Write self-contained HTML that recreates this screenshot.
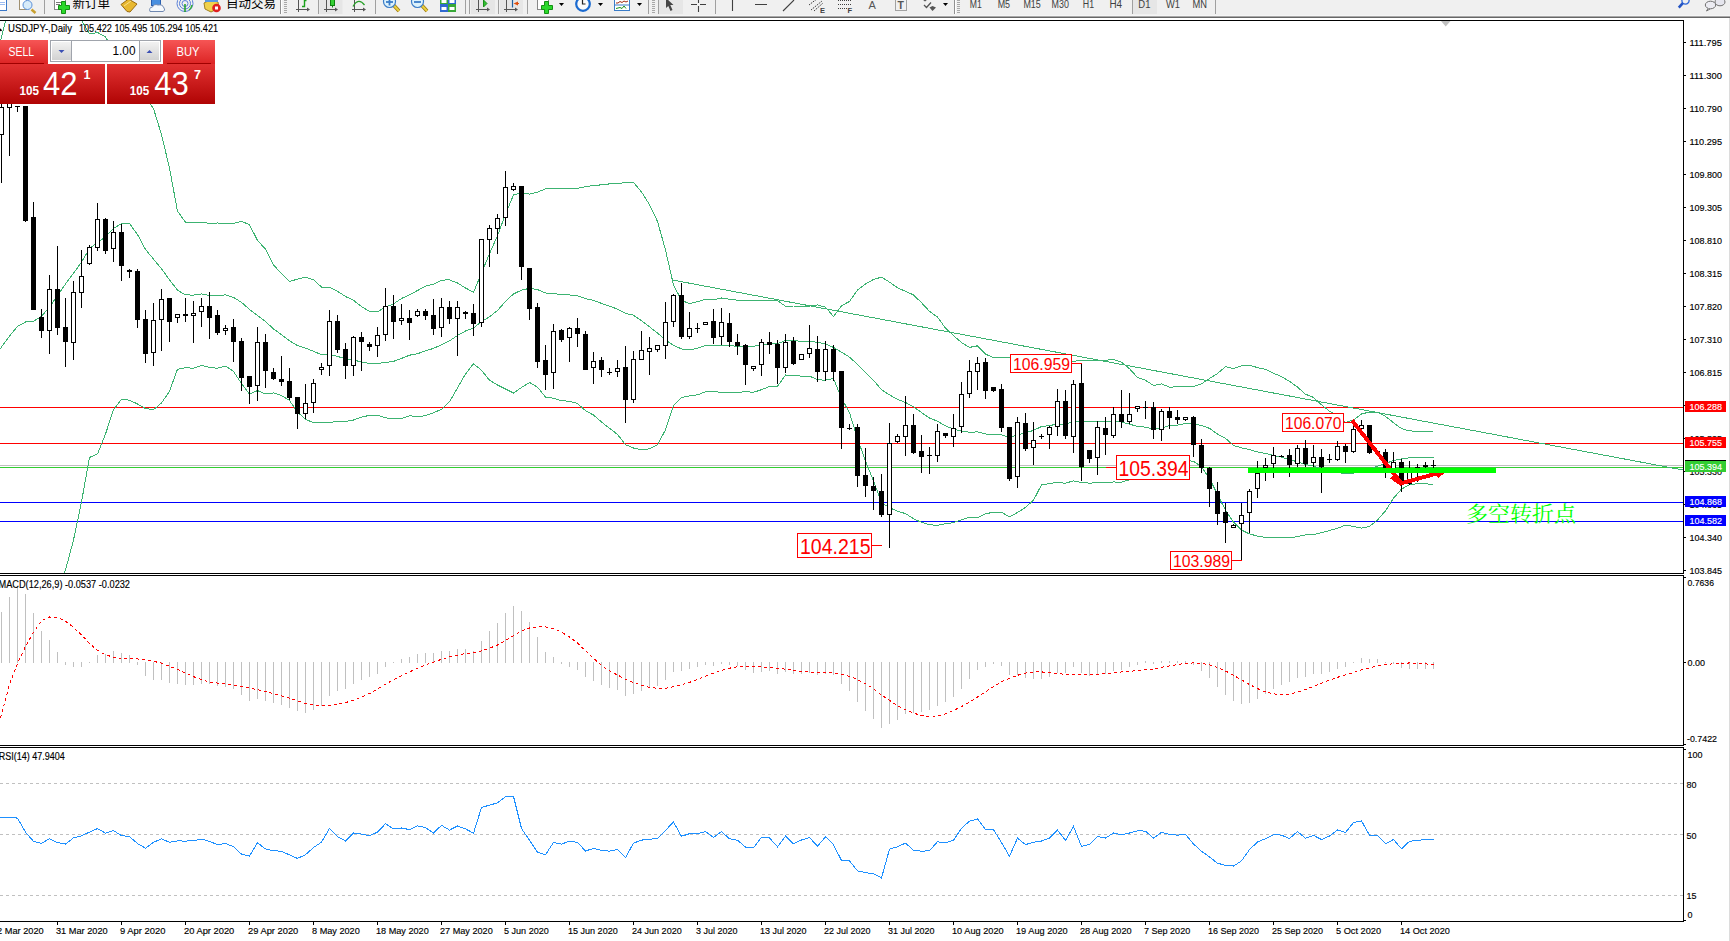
<!DOCTYPE html><html><head><meta charset="utf-8"><title>USDJPY Daily</title>
<style>html,body{margin:0;padding:0;background:#fff;width:1730px;height:941px;overflow:hidden}svg{position:absolute;left:0;top:0;display:block}.ax{font-family:"Liberation Sans",Arial,sans-serif;font-size:9.6px;fill:#000;stroke:#000;stroke-width:0.15px}.tb{font-family:"Liberation Sans",Arial,sans-serif;font-size:11px;fill:#222}.cjk{font-family:"Liberation Sans","Noto Sans CJK SC",sans-serif}</style></head><body>
<svg width="1730" height="941" viewBox="0 0 1730 941">
<defs><clipPath id="cm"><rect x="0" y="21" width="1683" height="552"/></clipPath><clipPath id="cd"><rect x="0" y="576" width="1683" height="169"/></clipPath><clipPath id="cr"><rect x="0" y="748" width="1683" height="173"/></clipPath><linearGradient id="gTab" x1="0" y1="0" x2="0" y2="1"><stop offset="0" stop-color="#f65555"/><stop offset="1" stop-color="#dc2424"/></linearGradient><linearGradient id="gPx" x1="0" y1="0" x2="0" y2="1"><stop offset="0" stop-color="#e23232"/><stop offset="1" stop-color="#b00404"/></linearGradient><linearGradient id="gBtn" x1="0" y1="0" x2="0" y2="1"><stop offset="0" stop-color="#f2f2f2"/><stop offset="1" stop-color="#d2d2d2"/></linearGradient></defs>
<g id="toolbar">
<rect x="0" y="0" width="1730" height="16" fill="#f0f0f0"/>
<rect x="0" y="15" width="1730" height="1" fill="#f5f5f5"/>
<rect x="0" y="16" width="1730" height="1" fill="#a8a8a8"/>
<rect x="0" y="17" width="1730" height="1" fill="#666666"/>
<g id="tb-icons">
<rect x="319.5" y="0" width="23.0" height="14" fill="#e6e6e6"/>
<rect x="471" y="0" width="24" height="14" fill="#e6e6e6"/>
<rect x="500" y="0" width="23" height="14" fill="#e6e6e6"/>
<rect x="659" y="0" width="24" height="14" fill="#e6e6e6"/>
<rect x="1133" y="0" width="24" height="14" fill="#e6e6e6"/>
<rect x="44" y="0" width="1" height="14" fill="#a0a0a0"/>
<rect x="318" y="0" width="1" height="14" fill="#a0a0a0"/>
<rect x="375" y="0" width="1" height="14" fill="#a0a0a0"/>
<rect x="465" y="0" width="1" height="14" fill="#a0a0a0"/>
<rect x="469" y="0" width="1" height="14" fill="#a0a0a0"/>
<rect x="498" y="0" width="1" height="14" fill="#a0a0a0"/>
<rect x="527" y="0" width="1" height="14" fill="#a0a0a0"/>
<rect x="648" y="0" width="1" height="14" fill="#a0a0a0"/>
<rect x="658" y="0" width="1" height="14" fill="#a0a0a0"/>
<rect x="715" y="0" width="1" height="14" fill="#a0a0a0"/>
<rect x="954" y="0" width="1" height="14" fill="#a0a0a0"/>
<rect x="1132" y="0" width="1" height="14" fill="#a0a0a0"/>
<rect x="1215" y="0" width="1" height="14" fill="#a0a0a0"/>
<rect x="280" y="0" width="1" height="14" fill="#909090"/><rect x="281" y="0" width="1" height="14" fill="#fff"/>
<rect x="954" y="0" width="1" height="14" fill="#909090"/><rect x="955" y="0" width="1" height="14" fill="#fff"/>
<rect x="284" y="0" width="3" height="1" fill="#a8a8a8"/>
<rect x="284" y="2" width="3" height="1" fill="#a8a8a8"/>
<rect x="284" y="4" width="3" height="1" fill="#a8a8a8"/>
<rect x="284" y="6" width="3" height="1" fill="#a8a8a8"/>
<rect x="284" y="8" width="3" height="1" fill="#a8a8a8"/>
<rect x="284" y="10" width="3" height="1" fill="#a8a8a8"/>
<rect x="284" y="12" width="3" height="1" fill="#a8a8a8"/>
<rect x="652" y="0" width="3" height="1" fill="#a8a8a8"/>
<rect x="652" y="2" width="3" height="1" fill="#a8a8a8"/>
<rect x="652" y="4" width="3" height="1" fill="#a8a8a8"/>
<rect x="652" y="6" width="3" height="1" fill="#a8a8a8"/>
<rect x="652" y="8" width="3" height="1" fill="#a8a8a8"/>
<rect x="652" y="10" width="3" height="1" fill="#a8a8a8"/>
<rect x="652" y="12" width="3" height="1" fill="#a8a8a8"/>
<rect x="957" y="0" width="3" height="1" fill="#a8a8a8"/>
<rect x="957" y="2" width="3" height="1" fill="#a8a8a8"/>
<rect x="957" y="4" width="3" height="1" fill="#a8a8a8"/>
<rect x="957" y="6" width="3" height="1" fill="#a8a8a8"/>
<rect x="957" y="8" width="3" height="1" fill="#a8a8a8"/>
<rect x="957" y="10" width="3" height="1" fill="#a8a8a8"/>
<rect x="957" y="12" width="3" height="1" fill="#a8a8a8"/>
<rect x="-3.5" y="-5.5" width="10" height="16" fill="#fff" stroke="#3a78c8"/>
<path d="M-1 2.5H5M-1 4.5H5" stroke="#9cbcf0"/>
<rect x="19.5" y="-4.5" width="7" height="14" fill="#fff" stroke="#a09070"/>
<circle cx="27.5" cy="5" r="4.5" fill="#d8ecfa" stroke="#5a90d8"/>
<path d="M31.5 9.5L35.5 13" stroke="#c8a030" stroke-width="2.5"/>
<rect x="54.5" y="-4.5" width="11" height="14" fill="#fff" stroke="#888"/>
<path d="M56 2.5H62M56 4.5H60" stroke="#777"/>
<path d="M58.5 5.5H61.5V1.5H65.5V5.5H69.5V9.5H65.5V13.5H61.5V9.5H58.5Z" fill="#2ad82a" stroke="#149014"/>
<text x="72.5" y="8" font-family="Liberation Sans,'Noto Sans CJK SC',sans-serif" font-size="12.5" fill="#000">新订单</text>
<path d="M121 4.5L128.5 -1L137 4L130 12L127 11.5Z" fill="#e8b830" stroke="#9a6a10"/>
<path d="M124 6L131 1" stroke="#fbe08a"/>
<rect x="151.5" y="-3.5" width="9" height="9" fill="#4a90e0" stroke="#2a60b0"/>
<path d="M150 11.5Q148.5 7.5 152.5 7Q154 3.5 158 5Q162.5 4 164 8Q166 10.5 163 11.5Z" fill="#f6f9fc" stroke="#7088b0"/>
<circle cx="185" cy="3.5" r="3.0" fill="none" stroke="#5a80d8" stroke-dasharray="none"/>
<circle cx="185" cy="3.5" r="5.5" fill="none" stroke="#5a80d8" stroke-dasharray="none"/>
<circle cx="185" cy="3.5" r="8.0" fill="none" stroke="#5a80d8" stroke-dasharray="none"/>
<path d="M185 4V12" stroke="#20a020" stroke-width="1.5"/>
<path d="M189 10A8 8 0 0 0 192 5" stroke="#30b030" stroke-width="1.5" fill="none"/>
<path d="M204 3L210 0L218 2L219 8L211 12L205 9Z" fill="#f0d24a" stroke="#a08020"/>
<rect x="205" y="-2" width="13" height="4" fill="#5a9ae0"/>
<circle cx="216.5" cy="8" r="4.3" fill="#e02020"/>
<rect x="215" y="6.5" width="3" height="3" fill="#fff"/>
<text x="226" y="8" font-family="Liberation Sans,'Noto Sans CJK SC',sans-serif" font-size="12.5" fill="#000">自动交易</text>
<path d="M298.5 0V12M296 9.5H308" stroke="#555" fill="none"/>
<path d="M307 7.5L310 9.5L307 11.5Z" fill="#555"/>
<path d="M326.5 0V12M324 9.5H336" stroke="#555" fill="none"/>
<path d="M335 7.5L338 9.5L335 11.5Z" fill="#555"/>
<path d="M354.5 0V12M352 9.5H364" stroke="#555" fill="none"/>
<path d="M363 7.5L366 9.5L363 11.5Z" fill="#555"/>
<path d="M478.5 0V12M476 9.5H488" stroke="#555" fill="none"/>
<path d="M487 7.5L490 9.5L487 11.5Z" fill="#555"/>
<path d="M506.5 0V12M504 9.5H516" stroke="#555" fill="none"/>
<path d="M515 7.5L518 9.5L515 11.5Z" fill="#555"/>
<path d="M302 6.5H304.5V0.5H306.5" stroke="#1aa01a" stroke-width="1.4" fill="none"/>
<rect x="330.5" y="-1.5" width="4" height="7" fill="#34d034" stroke="#108010"/><path d="M332.5 5.5V7.5" stroke="#108010"/>
<path d="M353 6.5Q358.5 -3 364.5 5" stroke="#28a028" stroke-width="1.3" fill="none"/>
<path d="M483.5 0L487 3.5L483.5 7Z" fill="#30c030" stroke="#189018"/>
<path d="M512.5 0V7.5" stroke="#2060a0" stroke-width="1.2"/><path d="M513.5 3.5L518 1.5V5.5Z" fill="#e05010"/><path d="M515 3.5H519" stroke="#e05010"/>
<path d="M393.5 5L399.0 11" stroke="#a07810" stroke-width="3.6"/>
<path d="M393.5 5L399.0 11" stroke="#e8d040" stroke-width="2"/>
<circle cx="389.5" cy="1.5" r="6" fill="#dcf2fc" stroke="#3a7cc8" stroke-width="1.2"/>
<path d="M386.0 2H393.0" stroke="#3a7cc8" stroke-width="1.8"/>
<path d="M389.5 -1.5V5.5" stroke="#3a7cc8" stroke-width="1.8"/>
<path d="M421.5 5L427.0 11" stroke="#a07810" stroke-width="3.6"/>
<path d="M421.5 5L427.0 11" stroke="#e8d040" stroke-width="2"/>
<circle cx="417.5" cy="1.5" r="6" fill="#dcf2fc" stroke="#3a7cc8" stroke-width="1.2"/>
<path d="M414.0 2H421.0" stroke="#3a7cc8" stroke-width="1.8"/>
<rect x="440.5" y="-2.5" width="7" height="7" fill="#38a838" stroke="#38a838"/>
<rect x="441.5" y="0.0" width="5" height="3" fill="#fff"/>
<rect x="448.5" y="-2.5" width="7" height="7" fill="#3068d0" stroke="#3068d0"/>
<rect x="449.5" y="0.0" width="5" height="3" fill="#fff"/>
<rect x="440.5" y="4.5" width="7" height="7" fill="#3068d0" stroke="#3068d0"/>
<rect x="441.5" y="7.0" width="5" height="3" fill="#fff"/>
<rect x="448.5" y="4.5" width="7" height="7" fill="#38a838" stroke="#38a838"/>
<rect x="449.5" y="7.0" width="5" height="3" fill="#fff"/>
<rect x="537.5" y="-3.5" width="11" height="13" fill="#fff" stroke="#888"/>
<path d="M541.5 5.5H544.5V1.5H548.5V5.5H552.5V9.5H548.5V13.5H544.5V9.5H541.5Z" fill="#2ad82a" stroke="#149014"/>
<path d="M559.0 3H564.0L561.5 6Z" fill="#000"/>
<path d="M598.0 3H603.0L600.5 6Z" fill="#000"/>
<path d="M637.0 3H642.0L639.5 6Z" fill="#000"/>
<path d="M943.0 3H948.0L945.5 6Z" fill="#000"/>
<circle cx="583" cy="4" r="6.8" fill="#fafafa" stroke="#1a6ad0" stroke-width="2.2"/>
<path d="M582.5 -0.5V4H585.5" stroke="#222" stroke-width="1.2" fill="none"/>
<rect x="614.5" y="-2.5" width="15" height="13" fill="#fff" stroke="#3a7cc8"/>
<path d="M615 5H629" stroke="#3a7cc8"/>
<path d="M616 3L618 3L620 1.5L622 2.5L624 1L626 2L628 1" stroke="#a02810" fill="none"/>
<path d="M616 8.5L618 8L620 7.5L622 8.5L624 6L626 8.5" stroke="#189018" fill="none"/>
<path d="M666 -2V8L668.3 6L670.5 11L672.5 10L670.3 5H673.5Z" fill="#454545"/>
<path d="M691 4.5H697M700 4.5H706M698.5 -1V3M698.5 6V12" stroke="#404040" stroke-width="1.1"/>
<path d="M732.5 0V11M755 4.5H767M783 11L794 0" stroke="#404040" stroke-width="1.1" fill="none"/>
<path d="M809 5L818 -2M811 10L822 1M814 11L823 3" stroke="#404040" stroke-dasharray="1.5,1" fill="none"/>
<text x="820" y="13" font-family="Liberation Sans,Arial,sans-serif" font-size="7.5" font-weight="bold" fill="#404040">E</text>
<path d="M838 0.5H851M838 4.5H851M838 8.5H847" stroke="#404040" stroke-dasharray="1,1"/>
<text x="847.5" y="13" font-family="Liberation Sans,Arial,sans-serif" font-size="7.5" font-weight="bold" fill="#404040">F</text>
<text x="868.5" y="9" font-family="Liberation Sans,Arial,sans-serif" font-size="11" fill="#555">A</text>
<rect x="895.5" y="-1.5" width="11" height="12" fill="none" stroke="#555" stroke-dasharray="1,1"/>
<text x="897.5" y="9" font-family="Liberation Sans,Arial,sans-serif" font-size="10.5" font-weight="bold" fill="#555">T</text>
<path d="M922 -1L925 -2.5L928 -1L925 1.5Z" fill="#555"/><path d="M924 5L926.5 7.5L931 2.5" stroke="#555" stroke-width="1.3" fill="none"/><path d="M929.5 7.5L932.5 6L936 7.5L932.5 11Z" fill="#555"/>
<text x="969.7" y="8.3" font-family="Liberation Sans,Arial,sans-serif" font-size="10" fill="#404040" textLength="12.0" lengthAdjust="spacingAndGlyphs">M1</text>
<text x="997.7" y="8.3" font-family="Liberation Sans,Arial,sans-serif" font-size="10" fill="#404040" textLength="12.4" lengthAdjust="spacingAndGlyphs">M5</text>
<text x="1023.4" y="8.3" font-family="Liberation Sans,Arial,sans-serif" font-size="10" fill="#404040" textLength="17.4" lengthAdjust="spacingAndGlyphs">M15</text>
<text x="1051.6" y="8.3" font-family="Liberation Sans,Arial,sans-serif" font-size="10" fill="#404040" textLength="17.3" lengthAdjust="spacingAndGlyphs">M30</text>
<text x="1082.8" y="8.3" font-family="Liberation Sans,Arial,sans-serif" font-size="10" fill="#404040" textLength="11.3" lengthAdjust="spacingAndGlyphs">H1</text>
<text x="1109.4" y="8.3" font-family="Liberation Sans,Arial,sans-serif" font-size="10" fill="#404040" textLength="12.7" lengthAdjust="spacingAndGlyphs">H4</text>
<text x="1138.3" y="8.3" font-family="Liberation Sans,Arial,sans-serif" font-size="10" fill="#404040" textLength="12.1" lengthAdjust="spacingAndGlyphs">D1</text>
<text x="1166.0" y="8.3" font-family="Liberation Sans,Arial,sans-serif" font-size="10" fill="#404040" textLength="13.9" lengthAdjust="spacingAndGlyphs">W1</text>
<text x="1192.6" y="8.3" font-family="Liberation Sans,Arial,sans-serif" font-size="10" fill="#404040" textLength="14.5" lengthAdjust="spacingAndGlyphs">MN</text>
<circle cx="1685.5" cy="0.5" r="3.6" fill="none" stroke="#2a64d8" stroke-width="1.3"/>
<path d="M1682.8 3.2L1678.8 7.6" stroke="#2454c4" stroke-width="2.6"/>
<ellipse cx="1720" cy="2" rx="5" ry="3.8" fill="#e6e6ee" stroke="#707070"/>
<ellipse cx="1710.5" cy="5" rx="5.2" ry="3.8" fill="#ececf2" stroke="#707070"/>
<path d="M1708 8.5L1706.5 11L1710 9" fill="#ececf2" stroke="#707070"/>
</g>
</g>
<rect x="1729" y="18" width="1" height="923" fill="#dcdcdc"/>
<g shape-rendering="crispEdges">
<rect x="0" y="20" width="1684" height="1" fill="#000"/>
<rect x="1683" y="20" width="1" height="554" fill="#000"/>
<rect x="0" y="573" width="1684" height="1" fill="#000"/>
<rect x="0" y="575" width="1684" height="1" fill="#000"/>
<rect x="1683" y="575" width="1" height="171" fill="#000"/>
<rect x="0" y="745" width="1684" height="1" fill="#000"/>
<rect x="0" y="747" width="1684" height="1" fill="#000"/>
<rect x="1683" y="747" width="1" height="175" fill="#000"/>
<rect x="0" y="921" width="1684" height="1" fill="#000"/>
</g>
<g shape-rendering="crispEdges">
<rect x="0" y="407" width="1683" height="1" fill="#ff0000"/>
<rect x="0" y="443" width="1683" height="1" fill="#ff0000"/>
<rect x="0" y="465" width="1683" height="1" fill="#c0c0c0"/>
<rect x="0" y="467" width="1683" height="1" fill="#32cd32"/>
<rect x="0" y="502" width="1683" height="1" fill="#0000ff"/>
<rect x="0" y="521" width="1683" height="1" fill="#0000ff"/>
</g>
<g clip-path="url(#cm)" fill="none" stroke="#3cb371" stroke-width="1" shape-rendering="crispEdges">
<polyline points="-6.5,64.5 1.5,37 9.5,5 17.5,0 25.5,0 33.5,0 41.5,0 49.5,0 57.5,0 65.5,0 73.5,0 81.5,20 89.5,34 97.5,32.5 105.5,37 113.5,50 121.5,62 129.5,75 137.5,88 145.5,98 153.5,108.6 161.5,134.5 169.5,168.3 177.5,211.2 185.5,222.1 193.5,222.1 201.5,222.5 209.5,223.2 217.5,223 225.5,223.8 233.5,223.4 241.5,221.4 249.5,224.7 257.5,240.5 265.5,249.1 273.5,264.8 281.5,273.7 289.5,281.4 297.5,279.2 305.5,277.1 313.5,279.8 321.5,287 329.5,287 337.5,291.3 345.5,296.5 353.5,300.3 361.5,306.6 369.5,311.4 377.5,311.8 385.5,307 393.5,303.9 401.5,298.5 409.5,294.8 417.5,290.5 425.5,286.2 433.5,284.2 441.5,280.1 449.5,279.9 457.5,283 465.5,288 473.5,292.3 481.5,273 489.5,253.6 497.5,235.8 505.5,214 513.5,194.9 521.5,192.9 529.5,194.1 537.5,192.1 545.5,188.9 553.5,188.8 561.5,188.4 569.5,188.4 577.5,188.4 585.5,186.6 593.5,185.6 601.5,184.8 609.5,183.9 617.5,183.9 625.5,182.2 633.5,182.5 641.5,191.9 649.5,204.7 657.5,221.5 665.5,250 673.5,285 681.5,300.2 689.5,303.8 697.5,301.6 705.5,299.4 713.5,299.9 721.5,298 729.5,299.3 737.5,300.2 745.5,300.4 753.5,300.3 761.5,300.2 769.5,300.6 777.5,300.6 785.5,306.3 793.5,306 801.5,306 809.5,306 817.5,304.9 825.5,307.2 833.5,316.5 841.5,305.9 849.5,301.4 857.5,290.1 865.5,284 873.5,279.5 881.5,277.1 889.5,282.1 897.5,287.7 905.5,291.4 913.5,294.9 921.5,302.7 929.5,311.4 937.5,317.1 945.5,328.1 953.5,335.6 961.5,342.5 969.5,347.4 977.5,345.8 985.5,354.1 993.5,357.6 1001.5,357.6 1009.5,357.9 1017.5,357 1025.5,358.4 1033.5,360.6 1041.5,368.1 1049.5,367.9 1057.5,365.4 1065.5,365.7 1073.5,361.3 1081.5,360.5 1089.5,360.3 1097.5,360.2 1105.5,360.2 1113.5,359.5 1121.5,362.1 1129.5,368.7 1137.5,377.5 1145.5,380.3 1153.5,385.4 1161.5,383.9 1169.5,387.1 1177.5,386.9 1185.5,386.7 1193.5,386.5 1201.5,383.8 1209.5,378.5 1217.5,373.5 1225.5,366.6 1233.5,368.7 1241.5,365.7 1249.5,365.2 1257.5,367.6 1265.5,369.3 1273.5,373.3 1281.5,376.5 1289.5,381.4 1297.5,387.1 1305.5,394.2 1313.5,397.4 1321.5,404.8 1329.5,411.2 1337.5,416.1 1345.5,422.7 1353.5,419.9 1361.5,413.9 1369.5,412.1 1377.5,412.4 1385.5,416.4 1393.5,422.7 1401.5,428.6 1409.5,430.9 1417.5,431.2 1425.5,431.2 1433.5,431.5"/>
<polyline points="-6.5,358 1.5,347 9.5,336 17.5,326.5 25.5,322 33.5,321.2 41.5,316.3 49.5,307 57.5,295.5 65.5,284 73.5,273.3 81.5,262.2 89.5,248.5 97.5,242.5 105.5,236.8 113.5,228.5 121.5,223.6 129.5,223.6 137.5,234.5 145.5,249.5 153.5,259.1 161.5,268.8 169.5,279.8 177.5,290.2 185.5,294.9 193.5,295.1 201.5,293.9 209.5,295.4 217.5,295.6 225.5,294.9 233.5,297.4 241.5,302.4 249.5,309.4 257.5,315.6 265.5,321.6 273.5,328.9 281.5,334.6 289.5,340.9 297.5,345.6 305.5,348.1 313.5,351.3 321.5,354.7 329.5,354.7 337.5,356.4 345.5,358.9 353.5,360.1 361.5,361.9 369.5,363.4 377.5,363.5 385.5,362.4 393.5,361.4 401.5,358.4 409.5,355.2 417.5,353.7 425.5,350.9 433.5,348.4 441.5,344.8 449.5,340.8 457.5,335.5 465.5,331 473.5,328 481.5,321.6 489.5,316.9 497.5,310.4 505.5,301.5 513.5,293.9 521.5,290.2 529.5,288.3 537.5,289.6 545.5,293 553.5,293.5 561.5,294.6 569.5,294.9 577.5,295.9 585.5,298.6 593.5,300.3 601.5,303.4 609.5,306.1 617.5,309.1 625.5,313.4 633.5,315.2 641.5,320.8 649.5,326.8 657.5,333.1 665.5,339.9 673.5,345.4 681.5,348.9 689.5,349.9 697.5,348.2 705.5,345.6 713.5,345.9 721.5,345.1 729.5,345.7 737.5,346.3 745.5,346.1 753.5,346.3 761.5,344.9 769.5,343.6 777.5,343.5 785.5,340.6 793.5,340.9 801.5,341.1 809.5,341.1 817.5,342.4 825.5,343.7 833.5,347.5 841.5,352.1 849.5,357.1 857.5,364.4 865.5,372.6 873.5,380.2 881.5,389.8 889.5,394.9 897.5,399.4 905.5,402.5 913.5,406.8 921.5,412.5 929.5,418.1 937.5,421.2 945.5,425.9 953.5,429.1 961.5,431.1 969.5,432.3 977.5,431.9 985.5,433.9 993.5,434.9 1001.5,434.9 1009.5,437.4 1017.5,434.8 1025.5,432.9 1033.5,430.4 1041.5,426.5 1049.5,425.7 1057.5,423.9 1065.5,424.4 1073.5,421.1 1081.5,421.6 1089.5,421.7 1097.5,421.5 1105.5,421.4 1113.5,420.8 1121.5,422.1 1129.5,424.2 1137.5,426.4 1145.5,427.2 1153.5,429.2 1161.5,428.4 1169.5,425.4 1177.5,425.2 1185.5,423.6 1193.5,423.9 1201.5,425.4 1209.5,428.4 1217.5,434.1 1225.5,438.4 1233.5,445.4 1241.5,447.9 1249.5,449.6 1257.5,451.9 1265.5,453.4 1273.5,455.4 1281.5,457.2 1289.5,459.7 1297.5,461.8 1305.5,464.6 1313.5,466 1321.5,468.8 1329.5,470.9 1337.5,472.2 1345.5,473.9 1353.5,473.1 1361.5,471.1 1369.5,469.2 1377.5,466.2 1385.5,463.6 1393.5,460.4 1401.5,458.9 1409.5,457.8 1417.5,457.4 1425.5,457.5 1433.5,458"/>
<polyline points="-6.5,720.5 1.5,700 9.5,690 17.5,680 25.5,660 33.5,640 41.5,620 49.5,600 57.5,585 65.5,570 73.5,540 81.5,502 89.5,457.5 97.5,453.9 105.5,434 113.5,409.8 121.5,399.4 129.5,400.2 137.5,404 145.5,408.5 153.5,409.7 161.5,403 169.5,391.3 177.5,369.2 185.5,367.8 193.5,368.2 201.5,365.4 209.5,367.5 217.5,368.2 225.5,366.1 233.5,371.4 241.5,383.5 249.5,394.1 257.5,390.6 265.5,394 273.5,392.9 281.5,395.6 289.5,400.5 297.5,412.1 305.5,419.2 313.5,422.8 321.5,422.4 329.5,422.4 337.5,421.6 345.5,421.4 353.5,420 361.5,417.2 369.5,415.3 377.5,415.2 385.5,417.8 393.5,418.9 401.5,418.4 409.5,415.7 417.5,416.9 425.5,415.7 433.5,412.7 441.5,409.4 449.5,401.7 457.5,388 465.5,374 473.5,363.7 481.5,370.2 489.5,380.3 497.5,385 505.5,389 513.5,393 521.5,387.5 529.5,382.5 537.5,387.1 545.5,397.1 553.5,398.2 561.5,400.7 569.5,401.3 577.5,403.5 585.5,410.7 593.5,415 601.5,422 609.5,428.3 617.5,434.4 625.5,444.7 633.5,448 641.5,449.7 649.5,448.9 657.5,444.8 665.5,429.8 673.5,405.7 681.5,397.5 689.5,395.9 697.5,394.8 705.5,391.8 713.5,391.9 721.5,392.1 729.5,392.1 737.5,392.4 745.5,391.7 753.5,392.3 761.5,389.7 769.5,386.5 777.5,386.4 785.5,375 793.5,375.7 801.5,376.1 809.5,376.1 817.5,379.8 825.5,380.2 833.5,378.5 841.5,398.2 849.5,412.7 857.5,438.7 865.5,461.1 873.5,480.9 881.5,502.5 889.5,507.7 897.5,511.2 905.5,513.6 913.5,518.7 921.5,522.3 929.5,524.7 937.5,525.4 945.5,523.7 953.5,522.7 961.5,519.8 969.5,517.2 977.5,518 985.5,513.8 993.5,512.2 1001.5,512.2 1009.5,516.9 1017.5,512.5 1025.5,507.4 1033.5,500.2 1041.5,484.9 1049.5,483.5 1057.5,482.5 1065.5,483.2 1073.5,480.8 1081.5,482.6 1089.5,483.1 1097.5,482.8 1105.5,482.7 1113.5,482 1121.5,482.1 1129.5,479.8 1137.5,475.3 1145.5,474.2 1153.5,473 1161.5,472.9 1169.5,463.6 1177.5,463.5 1185.5,460.6 1193.5,461.2 1201.5,467 1209.5,478.4 1217.5,494.6 1225.5,510.2 1233.5,522.2 1241.5,530.1 1249.5,533.9 1257.5,536.1 1265.5,537.5 1273.5,537.6 1281.5,537.9 1289.5,538 1297.5,536.5 1305.5,535 1313.5,534.6 1321.5,532.7 1329.5,530.5 1337.5,528.3 1345.5,525.1 1353.5,526.4 1361.5,528.2 1369.5,526.4 1377.5,520 1385.5,510.8 1393.5,498.2 1401.5,489.1 1409.5,484.6 1417.5,483.7 1425.5,483.8 1433.5,484.5"/>
<line x1="672.5" y1="280" x2="1683" y2="470"/>
</g>
<g clip-path="url(#cm)" shape-rendering="crispEdges">
<path d="M1.5 95V183M9.5 95V156M17.5 106V112M25.5 106V222M33.5 202V310M41.5 309V338M49.5 275V354M57.5 246V335M65.5 298V367M73.5 281V360M81.5 250V308M89.5 245V265M97.5 203V251M105.5 218V254M113.5 221V262M121.5 224V281M129.5 269V278M137.5 269V328M145.5 310V363M153.5 303V366M161.5 289V351M169.5 298V342M177.5 314V323M185.5 298V322M193.5 301V343M201.5 298V327M209.5 292V339M217.5 310V335M225.5 325V335M233.5 319V362M241.5 338V391M249.5 376V404M257.5 327V401M265.5 334V388M273.5 368V380M281.5 356V386M289.5 368V400M297.5 397V429M305.5 384V419M313.5 379V413M321.5 363V375M329.5 310V376M337.5 315V353M345.5 343V379M353.5 336V376M361.5 332V371M369.5 342V351M377.5 327V357M385.5 288V341M393.5 295V339M401.5 304V325M409.5 310V340M417.5 309V317M425.5 309V320M433.5 299V335M441.5 298V337M449.5 301V324M457.5 301V356M465.5 311V319M473.5 304V336M481.5 239V327M489.5 225V267M497.5 214V254M505.5 171V226M513.5 183V191M521.5 186V280M529.5 268V320M537.5 303V368M545.5 345V390M553.5 324V389M561.5 329V342M569.5 327V362M577.5 318V347M585.5 331V370M593.5 352V384M601.5 357V377M609.5 368V375M617.5 360V377M625.5 346V423M633.5 351V403M641.5 331V360M649.5 337V375M657.5 345V352M665.5 302V359M673.5 294V327M681.5 283V339M689.5 312V339M697.5 323V333M705.5 322V325M713.5 309V344M721.5 308V345M729.5 313V347M737.5 334V355M745.5 344V385M753.5 366V371M761.5 339V376M769.5 332V354M777.5 340V384M785.5 334V373M793.5 337V365M801.5 354V360M809.5 325V358M817.5 336V382M825.5 341V381M833.5 345V381M841.5 371V449M849.5 424V430M857.5 424V487M865.5 448V497M873.5 477V510M881.5 474V517M889.5 423V548M897.5 434V443M905.5 396V456M913.5 414V454M921.5 435V473M929.5 447V474M937.5 424V462M945.5 433V438M953.5 414V447M961.5 382V433M969.5 360V398M977.5 357V390M985.5 358V399M993.5 387V392M1001.5 384V432M1009.5 427V481M1017.5 417V488M1025.5 413V451M1033.5 422V465M1041.5 434V439M1049.5 426V449M1057.5 389V436M1065.5 390V439M1073.5 380V453M1081.5 364V481M1089.5 450V463M1097.5 421V475M1105.5 417V455M1113.5 407V438M1121.5 390V428M1129.5 393V424M1137.5 406V412M1145.5 401V419M1153.5 402V439M1161.5 409V441M1169.5 407V429M1177.5 410V424M1185.5 417V421M1193.5 416V457M1201.5 439V473M1209.5 467V507M1217.5 482V525M1225.5 503V543M1233.5 524V528M1241.5 503V560M1249.5 489V533M1257.5 461V498M1265.5 458V481M1273.5 447V478M1281.5 455V457M1289.5 449V477M1297.5 445V467M1305.5 440V467M1313.5 445V467M1321.5 449V493M1329.5 454V463M1337.5 441V461M1345.5 444V463M1353.5 420V453M1361.5 420V429M1369.5 425V454M1377.5 450V455M1385.5 449V478M1393.5 452V475M1401.5 459V492M1409.5 461V485M1417.5 464V482M1425.5 462V468M1433.5 460V468" stroke="#000" stroke-width="1" fill="none"/>
<rect x="-0.5" y="107.5" width="4" height="27" fill="#fff" stroke="#000" stroke-width="1"/>
<rect x="7.5" y="100.5" width="4" height="7" fill="#fff" stroke="#000" stroke-width="1"/>
<rect x="47.5" y="289.5" width="4" height="41" fill="#fff" stroke="#000" stroke-width="1"/>
<rect x="71.5" y="292.5" width="4" height="50" fill="#fff" stroke="#000" stroke-width="1"/>
<rect x="79.5" y="276.5" width="4" height="16" fill="#fff" stroke="#000" stroke-width="1"/>
<rect x="87.5" y="247.5" width="4" height="16" fill="#fff" stroke="#000" stroke-width="1"/>
<rect x="95.5" y="219.5" width="4" height="28" fill="#fff" stroke="#000" stroke-width="1"/>
<rect x="111.5" y="232.5" width="4" height="16" fill="#fff" stroke="#000" stroke-width="1"/>
<rect x="151.5" y="320.5" width="4" height="32" fill="#fff" stroke="#000" stroke-width="1"/>
<rect x="159.5" y="299.5" width="4" height="20" fill="#fff" stroke="#000" stroke-width="1"/>
<rect x="175.5" y="314.5" width="4" height="3" fill="#fff" stroke="#000" stroke-width="1"/>
<rect x="191.5" y="313.5" width="4" height="2" fill="#fff" stroke="#000" stroke-width="1"/>
<rect x="199.5" y="306.5" width="4" height="5" fill="#fff" stroke="#000" stroke-width="1"/>
<rect x="223.5" y="328.5" width="4" height="2" fill="#fff" stroke="#000" stroke-width="1"/>
<rect x="255.5" y="342.5" width="4" height="43" fill="#fff" stroke="#000" stroke-width="1"/>
<rect x="303.5" y="403.5" width="4" height="10" fill="#fff" stroke="#000" stroke-width="1"/>
<rect x="311.5" y="383.5" width="4" height="19" fill="#fff" stroke="#000" stroke-width="1"/>
<rect x="319.5" y="367.5" width="4" height="2" fill="#fff" stroke="#000" stroke-width="1"/>
<rect x="327.5" y="321.5" width="4" height="44" fill="#fff" stroke="#000" stroke-width="1"/>
<rect x="351.5" y="337.5" width="4" height="28" fill="#fff" stroke="#000" stroke-width="1"/>
<rect x="375.5" y="335.5" width="4" height="10" fill="#fff" stroke="#000" stroke-width="1"/>
<rect x="383.5" y="306.5" width="4" height="28" fill="#fff" stroke="#000" stroke-width="1"/>
<rect x="399.5" y="318.5" width="4" height="2" fill="#fff" stroke="#000" stroke-width="1"/>
<rect x="415.5" y="311.5" width="4" height="4" fill="#fff" stroke="#000" stroke-width="1"/>
<rect x="439.5" y="307.5" width="4" height="20" fill="#fff" stroke="#000" stroke-width="1"/>
<rect x="455.5" y="307.5" width="4" height="11" fill="#fff" stroke="#000" stroke-width="1"/>
<rect x="479.5" y="239.5" width="4" height="83" fill="#fff" stroke="#000" stroke-width="1"/>
<rect x="487.5" y="228.5" width="4" height="11" fill="#fff" stroke="#000" stroke-width="1"/>
<rect x="495.5" y="218.5" width="4" height="10" fill="#fff" stroke="#000" stroke-width="1"/>
<rect x="503.5" y="187.5" width="4" height="30" fill="#fff" stroke="#000" stroke-width="1"/>
<rect x="511.5" y="186.5" width="4" height="3" fill="#fff" stroke="#000" stroke-width="1"/>
<rect x="551.5" y="331.5" width="4" height="41" fill="#fff" stroke="#000" stroke-width="1"/>
<rect x="567.5" y="328.5" width="4" height="9" fill="#fff" stroke="#000" stroke-width="1"/>
<rect x="591.5" y="361.5" width="4" height="6" fill="#fff" stroke="#000" stroke-width="1"/>
<rect x="615.5" y="368.5" width="4" height="3" fill="#fff" stroke="#000" stroke-width="1"/>
<rect x="631.5" y="359.5" width="4" height="40" fill="#fff" stroke="#000" stroke-width="1"/>
<rect x="639.5" y="350.5" width="4" height="9" fill="#fff" stroke="#000" stroke-width="1"/>
<rect x="647.5" y="348.5" width="4" height="3" fill="#fff" stroke="#000" stroke-width="1"/>
<rect x="655.5" y="345.5" width="4" height="4" fill="#fff" stroke="#000" stroke-width="1"/>
<rect x="663.5" y="322.5" width="4" height="23" fill="#fff" stroke="#000" stroke-width="1"/>
<rect x="671.5" y="295.5" width="4" height="26" fill="#fff" stroke="#000" stroke-width="1"/>
<rect x="687.5" y="328.5" width="4" height="8" fill="#fff" stroke="#000" stroke-width="1"/>
<rect x="703.5" y="322.5" width="4" height="2" fill="#fff" stroke="#000" stroke-width="1"/>
<rect x="719.5" y="322.5" width="4" height="14" fill="#fff" stroke="#000" stroke-width="1"/>
<rect x="751.5" y="366.5" width="4" height="2" fill="#fff" stroke="#000" stroke-width="1"/>
<rect x="759.5" y="342.5" width="4" height="22" fill="#fff" stroke="#000" stroke-width="1"/>
<rect x="783.5" y="342.5" width="4" height="25" fill="#fff" stroke="#000" stroke-width="1"/>
<rect x="799.5" y="354.5" width="4" height="5" fill="#fff" stroke="#000" stroke-width="1"/>
<rect x="807.5" y="348.5" width="4" height="5" fill="#fff" stroke="#000" stroke-width="1"/>
<rect x="823.5" y="349.5" width="4" height="22" fill="#fff" stroke="#000" stroke-width="1"/>
<rect x="887.5" y="443.5" width="4" height="71" fill="#fff" stroke="#000" stroke-width="1"/>
<rect x="895.5" y="436.5" width="4" height="5" fill="#fff" stroke="#000" stroke-width="1"/>
<rect x="903.5" y="425.5" width="4" height="11" fill="#fff" stroke="#000" stroke-width="1"/>
<rect x="935.5" y="431.5" width="4" height="24" fill="#fff" stroke="#000" stroke-width="1"/>
<rect x="951.5" y="428.5" width="4" height="8" fill="#fff" stroke="#000" stroke-width="1"/>
<rect x="959.5" y="394.5" width="4" height="32" fill="#fff" stroke="#000" stroke-width="1"/>
<rect x="967.5" y="371.5" width="4" height="22" fill="#fff" stroke="#000" stroke-width="1"/>
<rect x="975.5" y="363.5" width="4" height="8" fill="#fff" stroke="#000" stroke-width="1"/>
<rect x="1015.5" y="422.5" width="4" height="54" fill="#fff" stroke="#000" stroke-width="1"/>
<rect x="1031.5" y="440.5" width="4" height="7" fill="#fff" stroke="#000" stroke-width="1"/>
<rect x="1047.5" y="427.5" width="4" height="7" fill="#fff" stroke="#000" stroke-width="1"/>
<rect x="1055.5" y="401.5" width="4" height="25" fill="#fff" stroke="#000" stroke-width="1"/>
<rect x="1071.5" y="384.5" width="4" height="52" fill="#fff" stroke="#000" stroke-width="1"/>
<rect x="1095.5" y="427.5" width="4" height="30" fill="#fff" stroke="#000" stroke-width="1"/>
<rect x="1111.5" y="414.5" width="4" height="21" fill="#fff" stroke="#000" stroke-width="1"/>
<rect x="1127.5" y="414.5" width="4" height="7" fill="#fff" stroke="#000" stroke-width="1"/>
<rect x="1135.5" y="406.5" width="4" height="2" fill="#fff" stroke="#000" stroke-width="1"/>
<rect x="1159.5" y="411.5" width="4" height="18" fill="#fff" stroke="#000" stroke-width="1"/>
<rect x="1183.5" y="417.5" width="4" height="2" fill="#fff" stroke="#000" stroke-width="1"/>
<rect x="1231.5" y="525.5" width="4" height="2" fill="#fff" stroke="#000" stroke-width="1"/>
<rect x="1239.5" y="515.5" width="4" height="8" fill="#fff" stroke="#000" stroke-width="1"/>
<rect x="1247.5" y="491.5" width="4" height="21" fill="#fff" stroke="#000" stroke-width="1"/>
<rect x="1255.5" y="473.5" width="4" height="15" fill="#fff" stroke="#000" stroke-width="1"/>
<rect x="1263.5" y="465.5" width="4" height="2" fill="#fff" stroke="#000" stroke-width="1"/>
<rect x="1271.5" y="455.5" width="4" height="8" fill="#fff" stroke="#000" stroke-width="1"/>
<rect x="1295.5" y="448.5" width="4" height="15" fill="#fff" stroke="#000" stroke-width="1"/>
<rect x="1311.5" y="457.5" width="4" height="5" fill="#fff" stroke="#000" stroke-width="1"/>
<rect x="1335.5" y="446.5" width="4" height="13" fill="#fff" stroke="#000" stroke-width="1"/>
<rect x="1351.5" y="429.5" width="4" height="22" fill="#fff" stroke="#000" stroke-width="1"/>
<rect x="1359.5" y="425.5" width="4" height="3" fill="#fff" stroke="#000" stroke-width="1"/>
<rect x="1391.5" y="462.5" width="4" height="8" fill="#fff" stroke="#000" stroke-width="1"/>
<rect x="1407.5" y="469.5" width="4" height="14" fill="#fff" stroke="#000" stroke-width="1"/>
<path d="M15 106h5v1h-5zM23 106h5v115h-5zM31 217h5v93h-5zM39 317h5v14h-5zM55 289h5v39h-5zM63 327h5v15h-5zM103 219h5v32h-5zM119 232h5v34h-5zM127 270h5v2h-5zM135 271h5v49h-5zM143 319h5v35h-5zM167 298h5v24h-5zM183 314h5v2h-5zM207 306h5v12h-5zM215 315h5v18h-5zM231 327h5v15h-5zM239 341h5v37h-5zM247 376h5v11h-5zM263 342h5v29h-5zM271 372h5v7h-5zM279 379h5v3h-5zM287 381h5v17h-5zM295 397h5v17h-5zM335 321h5v29h-5zM343 349h5v17h-5zM359 337h5v5h-5zM367 344h5v3h-5zM391 306h5v16h-5zM407 318h5v5h-5zM423 311h5v5h-5zM431 315h5v14h-5zM447 307h5v12h-5zM463 312h5v2h-5zM471 313h5v11h-5zM519 186h5v81h-5zM527 268h5v41h-5zM535 307h5v55h-5zM543 360h5v15h-5zM559 330h5v10h-5zM575 328h5v6h-5zM583 334h5v36h-5zM599 360h5v10h-5zM607 372h5v1h-5zM623 367h5v33h-5zM679 295h5v42h-5zM695 328h5v1h-5zM711 321h5v17h-5zM727 323h5v19h-5zM735 342h5v4h-5zM743 345h5v20h-5zM767 342h5v3h-5zM775 344h5v24h-5zM791 341h5v23h-5zM815 349h5v23h-5zM831 349h5v23h-5zM839 371h5v57h-5zM847 428h5v1h-5zM855 427h5v49h-5zM863 475h5v11h-5zM871 486h5v5h-5zM879 491h5v24h-5zM911 425h5v28h-5zM919 451h5v6h-5zM927 455h5v1h-5zM943 433h5v3h-5zM983 362h5v29h-5zM991 387h5v4h-5zM999 389h5v39h-5zM1007 427h5v52h-5zM1023 423h5v26h-5zM1039 436h5v1h-5zM1063 401h5v35h-5zM1079 383h5v84h-5zM1087 450h5v9h-5zM1103 428h5v7h-5zM1119 414h5v8h-5zM1143 407h5v1h-5zM1151 407h5v23h-5zM1167 411h5v7h-5zM1175 417h5v3h-5zM1191 417h5v28h-5zM1199 445h5v23h-5zM1207 468h5v21h-5zM1215 491h5v23h-5zM1223 512h5v11h-5zM1279 456h5v1h-5zM1287 455h5v10h-5zM1303 448h5v16h-5zM1319 457h5v10h-5zM1327 459h5v1h-5zM1343 446h5v6h-5zM1367 425h5v28h-5zM1375 451h5v2h-5zM1383 452h5v19h-5zM1399 462h5v22h-5zM1415 467h5v1h-5zM1423 465h5v2h-5zM1431 465h5v1h-5z" fill="#000"/>
</g>
<g fill="none" stroke="#ff0000" stroke-width="4" stroke-linejoin="miter" stroke-linecap="butt" shape-rendering="crispEdges">
<polyline points="1352,420.5 1401.5,483.5"/>
<polyline points="1391.5,477 1402,484.5"/>
<polyline points="1400.5,483.5 1444,471.5"/>
<polyline points="1437,476.5 1444,471"/>
</g>
<rect x="1248" y="468" width="248" height="5" fill="#00ff00" shape-rendering="crispEdges"/>
<rect x="1010.5" y="354.5" width="61.0" height="18.0" fill="#fff" stroke="#ff0000" stroke-width="1" shape-rendering="crispEdges"/>
<text x="1013.0" y="370.0" font-family="Liberation Sans,Arial,sans-serif" font-size="16.8" fill="#ff0000" textLength="57.0" lengthAdjust="spacingAndGlyphs">106.959</text>
<path d="M1072 363.5H1082" stroke="#ff0000" stroke-width="1" fill="none" shape-rendering="crispEdges"/>
<rect x="797.5" y="533.5" width="74.0" height="24.0" fill="#fff" stroke="#ff0000" stroke-width="1" shape-rendering="crispEdges"/>
<text x="800.0" y="554.0" font-family="Liberation Sans,Arial,sans-serif" font-size="22.0" fill="#ff0000" textLength="70.5" lengthAdjust="spacingAndGlyphs">104.215</text>
<path d="M872 545.5H882" stroke="#ff0000" stroke-width="1" fill="none" shape-rendering="crispEdges"/>
<rect x="1116.5" y="455.5" width="73.0" height="24.0" fill="#fff" stroke="#ff0000" stroke-width="1" shape-rendering="crispEdges"/>
<text x="1118.5" y="476.0" font-family="Liberation Sans,Arial,sans-serif" font-size="22.0" fill="#ff0000" textLength="70.0" lengthAdjust="spacingAndGlyphs">105.394</text>
<path d="M1106 467.5H1116" stroke="#ff0000" stroke-width="1" fill="none" shape-rendering="crispEdges"/>
<rect x="1170.5" y="551.5" width="61.0" height="18.0" fill="#fff" stroke="#ff0000" stroke-width="1" shape-rendering="crispEdges"/>
<text x="1173.0" y="566.5" font-family="Liberation Sans,Arial,sans-serif" font-size="16.3" fill="#ff0000" textLength="57.0" lengthAdjust="spacingAndGlyphs">103.989</text>
<path d="M1232 560.5H1242" stroke="#ff0000" stroke-width="1" fill="none" shape-rendering="crispEdges"/>
<rect x="1282.5" y="413.5" width="61.0" height="18.0" fill="#fff" stroke="#ff0000" stroke-width="1" shape-rendering="crispEdges"/>
<text x="1285.0" y="429.0" font-family="Liberation Sans,Arial,sans-serif" font-size="16.3" fill="#ff0000" textLength="56.5" lengthAdjust="spacingAndGlyphs">106.070</text>
<path d="M1344 422.5H1352" stroke="#ff0000" stroke-width="1" fill="none" shape-rendering="crispEdges"/>
<text x="1466" y="521" font-family="Liberation Serif,'Noto Serif CJK SC',serif" font-size="21" fill="#00ff00" textLength="110" lengthAdjust="spacingAndGlyphs">多空转折点</text>
<path d="M1441 21H1450.5L1445.7 26.5Z" fill="#c0c0c0"/>
<text x="8" y="32" class="ax" style="font-size:10.4px" textLength="64" lengthAdjust="spacingAndGlyphs">USDJPY-,Daily</text>
<path d="M-1 27.5L2.5 30.5L-1 31.5Z" fill="#000"/>
<text x="79" y="32" class="ax" style="font-size:10.2px" textLength="139" lengthAdjust="spacingAndGlyphs">105.422 105.495 105.294 105.421</text>
<g shape-rendering="crispEdges">
<rect x="1684" y="42" width="2" height="1" fill="#000"/>
<rect x="1684" y="75" width="2" height="1" fill="#000"/>
<rect x="1684" y="108" width="2" height="1" fill="#000"/>
<rect x="1684" y="141" width="2" height="1" fill="#000"/>
<rect x="1684" y="174" width="2" height="1" fill="#000"/>
<rect x="1684" y="207" width="2" height="1" fill="#000"/>
<rect x="1684" y="240" width="2" height="1" fill="#000"/>
<rect x="1684" y="273" width="2" height="1" fill="#000"/>
<rect x="1684" y="306" width="2" height="1" fill="#000"/>
<rect x="1684" y="339" width="2" height="1" fill="#000"/>
<rect x="1684" y="372" width="2" height="1" fill="#000"/>
<rect x="1684" y="405" width="2" height="1" fill="#000"/>
<rect x="1684" y="438" width="2" height="1" fill="#000"/>
<rect x="1684" y="471" width="2" height="1" fill="#000"/>
<rect x="1684" y="504" width="2" height="1" fill="#000"/>
<rect x="1684" y="537" width="2" height="1" fill="#000"/>
<rect x="1684" y="570" width="2" height="1" fill="#000"/>
</g>
<text x="1689.5" y="46.2" class="ax" textLength="32.5" lengthAdjust="spacingAndGlyphs">111.795</text>
<text x="1689.5" y="79.2" class="ax" textLength="32.5" lengthAdjust="spacingAndGlyphs">111.300</text>
<text x="1689.5" y="112.2" class="ax" textLength="32.5" lengthAdjust="spacingAndGlyphs">110.790</text>
<text x="1689.5" y="145.2" class="ax" textLength="32.5" lengthAdjust="spacingAndGlyphs">110.295</text>
<text x="1689.5" y="178.2" class="ax" textLength="32.5" lengthAdjust="spacingAndGlyphs">109.800</text>
<text x="1689.5" y="211.2" class="ax" textLength="32.5" lengthAdjust="spacingAndGlyphs">109.305</text>
<text x="1689.5" y="244.2" class="ax" textLength="32.5" lengthAdjust="spacingAndGlyphs">108.810</text>
<text x="1689.5" y="277.2" class="ax" textLength="32.5" lengthAdjust="spacingAndGlyphs">108.315</text>
<text x="1689.5" y="310.2" class="ax" textLength="32.5" lengthAdjust="spacingAndGlyphs">107.820</text>
<text x="1689.5" y="343.2" class="ax" textLength="32.5" lengthAdjust="spacingAndGlyphs">107.310</text>
<text x="1689.5" y="376.2" class="ax" textLength="32.5" lengthAdjust="spacingAndGlyphs">106.815</text>
<text x="1689.5" y="409.2" class="ax" textLength="32.5" lengthAdjust="spacingAndGlyphs">106.320</text>
<text x="1689.5" y="442.2" class="ax" textLength="32.5" lengthAdjust="spacingAndGlyphs">105.825</text>
<text x="1689.5" y="475.2" class="ax" textLength="32.5" lengthAdjust="spacingAndGlyphs">105.330</text>
<text x="1689.5" y="508.2" class="ax" textLength="32.5" lengthAdjust="spacingAndGlyphs">104.835</text>
<text x="1689.5" y="541.2" class="ax" textLength="32.5" lengthAdjust="spacingAndGlyphs">104.340</text>
<text x="1689.5" y="574.2" class="ax" textLength="32.5" lengthAdjust="spacingAndGlyphs">103.845</text>
<rect x="1685" y="401" width="41" height="11" fill="#ff0000" shape-rendering="crispEdges"/>
<text x="1689.5" y="410.0" class="ax" style="fill:#fff;stroke:#fff" textLength="32.5" lengthAdjust="spacingAndGlyphs">106.288</text>
<rect x="1685" y="437" width="41" height="11" fill="#ff0000" shape-rendering="crispEdges"/>
<text x="1689.5" y="446.0" class="ax" style="fill:#fff;stroke:#fff" textLength="32.5" lengthAdjust="spacingAndGlyphs">105.755</text>
<rect x="1685" y="460" width="41" height="11" fill="#000000" shape-rendering="crispEdges"/>
<text x="1689.5" y="469.0" class="ax" style="fill:#fff;stroke:#fff" textLength="32.5" lengthAdjust="spacingAndGlyphs">105.421</text>
<rect x="1685" y="461" width="41" height="11" fill="#32cd32" shape-rendering="crispEdges"/>
<text x="1689.5" y="470.0" class="ax" style="fill:#fff;stroke:#fff" textLength="32.5" lengthAdjust="spacingAndGlyphs">105.394</text>
<rect x="1685" y="496" width="41" height="11" fill="#0000ff" shape-rendering="crispEdges"/>
<text x="1689.5" y="505.0" class="ax" style="fill:#fff;stroke:#fff" textLength="32.5" lengthAdjust="spacingAndGlyphs">104.868</text>
<rect x="1685" y="515" width="41" height="11" fill="#0000ff" shape-rendering="crispEdges"/>
<text x="1689.5" y="524.0" class="ax" style="fill:#fff;stroke:#fff" textLength="32.5" lengthAdjust="spacingAndGlyphs">104.582</text>
<rect x="1684" y="577" width="2" height="1" fill="#000" shape-rendering="crispEdges"/>
<rect x="1684" y="662" width="2" height="1" fill="#000" shape-rendering="crispEdges"/>
<rect x="1684" y="744" width="2" height="1" fill="#000" shape-rendering="crispEdges"/>
<text x="1687.5" y="586" class="ax" textLength="26.5" lengthAdjust="spacingAndGlyphs">0.7636</text>
<text x="1687.5" y="666" class="ax" textLength="17.5" lengthAdjust="spacingAndGlyphs">0.00</text>
<text x="1687" y="742" class="ax" textLength="30" lengthAdjust="spacingAndGlyphs">-0.7422</text>
<rect x="1684" y="749" width="2" height="1" fill="#000" shape-rendering="crispEdges"/>
<rect x="1684" y="920" width="2" height="1" fill="#000" shape-rendering="crispEdges"/>
<text x="1687.5" y="758" class="ax" textLength="15" lengthAdjust="spacingAndGlyphs">100</text>
<text x="1686.5" y="787.5" class="ax" textLength="10" lengthAdjust="spacingAndGlyphs">80</text>
<text x="1686.5" y="838.5" class="ax" textLength="10" lengthAdjust="spacingAndGlyphs">50</text>
<text x="1686.5" y="899" class="ax" textLength="10" lengthAdjust="spacingAndGlyphs">15</text>
<text x="1687.5" y="918" class="ax" textLength="5" lengthAdjust="spacingAndGlyphs">0</text>
<g clip-path="url(#cd)">
<path d="M1.5 612V663M9.5 597V663M17.5 586V663M25.5 594V663M33.5 613V663M41.5 631V663M49.5 640V663M57.5 652V663M65.5 662V665M73.5 662V667M81.5 662V667M89.5 662V663M97.5 655V663M105.5 654V663M113.5 651V663M121.5 653V663M129.5 655V663M137.5 662V665M145.5 662V676M153.5 662V680M161.5 662V680M169.5 662V683M177.5 662V684M185.5 662V685M193.5 662V685M201.5 662V684M209.5 662V684M217.5 662V686M225.5 662V687M233.5 662V689M241.5 662V695M249.5 662V701M257.5 662V699M265.5 662V701M273.5 662V703M281.5 662V705M289.5 662V708M297.5 662V711M305.5 662V713M313.5 662V710M321.5 662V706M329.5 662V696M337.5 662V691M345.5 662V689M353.5 662V684M361.5 662V680M369.5 662V677M377.5 662V674M385.5 662V667M393.5 662V663M401.5 659V663M409.5 657V663M417.5 654V663M425.5 653V663M433.5 653V663M441.5 651V663M449.5 651V663M457.5 649V663M465.5 649V663M473.5 651V663M481.5 641V663M489.5 631V663M497.5 623V663M505.5 613V663M513.5 606V663M521.5 611V663M529.5 622V663M537.5 637V663M545.5 652V663M553.5 657V663M561.5 662V664M569.5 662V667M577.5 662V670M585.5 662V677M593.5 662V681M601.5 662V685M609.5 662V688M617.5 662V690M625.5 662V696M633.5 662V694M641.5 662V691M649.5 662V688M657.5 662V686M665.5 662V680M673.5 662V672M681.5 662V671M689.5 662V669M697.5 662V667M705.5 662V665M713.5 662V666M721.5 662V664M729.5 662V665M737.5 662V666M745.5 662V670M753.5 662V673M761.5 662V672M769.5 662V671M777.5 662V674M785.5 662V672M793.5 662V674M801.5 662V674M809.5 662V673M817.5 662V675M825.5 662V674M833.5 662V675M841.5 662V684M849.5 662V691M857.5 662V702M865.5 662V711M873.5 662V719M881.5 662V728M889.5 662V724M897.5 662V720M905.5 662V714M913.5 662V713M921.5 662V712M929.5 662V710M937.5 662V706M945.5 662V702M953.5 662V697M961.5 662V689M969.5 662V679M977.5 662V670M985.5 662V667M993.5 662V664M1001.5 662V666M1009.5 662V675M1017.5 662V675M1025.5 662V678M1033.5 662V679M1041.5 662V679M1049.5 662V677M1057.5 662V673M1065.5 662V673M1073.5 662V667M1081.5 662V673M1089.5 662V676M1097.5 662V675M1105.5 662V674M1113.5 662V671M1121.5 662V670M1129.5 662V667M1137.5 662V665M1145.5 661V663M1153.5 662V664M1161.5 661V663M1169.5 661V663M1177.5 661V663M1185.5 661V663M1193.5 662V665M1201.5 662V671M1209.5 662V678M1217.5 662V687M1225.5 662V695M1233.5 662V701M1241.5 662V704M1249.5 662V703M1257.5 662V699M1265.5 662V694M1273.5 662V689M1281.5 662V685M1289.5 662V682M1297.5 662V678M1305.5 662V677M1313.5 662V674M1321.5 662V674M1329.5 662V672M1337.5 662V669M1345.5 662V667M1353.5 662V663M1361.5 658V663M1369.5 659V663M1377.5 659V663M1385.5 662V663M1393.5 662V664M1401.5 662V668M1409.5 662V669M1417.5 662V669M1425.5 662V669M1433.5 662V669" stroke="#c0c0c0" stroke-width="1" fill="none" shape-rendering="crispEdges"/>
<polyline points="-6.5,741 1.5,714.5 9.5,684.5 17.5,663.5 25.5,646.5 33.5,632.5 41.5,620.5 49.5,617 57.5,617.5 65.5,621.3 73.5,627.3 81.5,635 89.5,643.4 97.5,650.3 105.5,654.9 113.5,657.1 121.5,658.5 129.5,658.9 137.5,658.9 145.5,659.8 153.5,661.3 161.5,663.2 169.5,666.2 177.5,669.4 185.5,673.1 193.5,676.6 201.5,679.7 209.5,681.9 217.5,683.1 225.5,683.9 233.5,684.9 241.5,686.3 249.5,688.1 257.5,689.7 265.5,691.5 273.5,693.6 281.5,695.8 289.5,698.2 297.5,700.9 305.5,703.5 313.5,705.1 321.5,705.7 329.5,705.3 337.5,704.2 345.5,702.6 353.5,700.3 361.5,697.2 369.5,693.5 377.5,689.1 385.5,684.3 393.5,679.6 401.5,675.6 409.5,672 417.5,668.2 425.5,664.9 433.5,662.1 441.5,659.3 449.5,656.9 457.5,655.1 465.5,653.6 473.5,652.7 481.5,650.8 489.5,648.2 497.5,645 505.5,640.5 513.5,635.5 521.5,631.1 529.5,628 537.5,626.7 545.5,626.8 553.5,628.7 561.5,632.2 569.5,636.9 577.5,643.1 585.5,650.8 593.5,658.4 601.5,665.3 609.5,670.9 617.5,675 625.5,679.2 633.5,682.5 641.5,685.2 649.5,687.3 657.5,688.3 665.5,688.2 673.5,686.8 681.5,684.8 689.5,682.4 697.5,679.3 705.5,676.1 713.5,673.2 721.5,670.5 729.5,668.2 737.5,666.7 745.5,666.4 753.5,666.7 761.5,667 769.5,667.5 777.5,668.4 785.5,669.2 793.5,670.3 801.5,671.3 809.5,672 817.5,672.6 825.5,672.6 833.5,673 841.5,674.4 849.5,676.3 857.5,679.5 865.5,683.7 873.5,688.8 881.5,694.9 889.5,700.4 897.5,705.5 905.5,709.9 913.5,713.1 921.5,715.5 929.5,716.4 937.5,715.8 945.5,713.8 953.5,710.5 961.5,706.5 969.5,702 977.5,697.1 985.5,691.9 993.5,686.5 1001.5,681.7 1009.5,678.3 1017.5,675.3 1025.5,673.1 1033.5,671.9 1041.5,671.9 1049.5,672.7 1057.5,673.4 1065.5,674.4 1073.5,674.5 1081.5,674.2 1089.5,674.4 1097.5,674.1 1105.5,673.7 1113.5,672.9 1121.5,672 1129.5,671.4 1137.5,670.5 1145.5,669.9 1153.5,668.9 1161.5,667.3 1169.5,665.9 1177.5,664.5 1185.5,663.4 1193.5,662.9 1201.5,663.3 1209.5,664.8 1217.5,667.5 1225.5,671 1233.5,675.3 1241.5,679.9 1249.5,684.5 1257.5,688.6 1265.5,691.9 1273.5,693.9 1281.5,694.6 1289.5,694.1 1297.5,692.3 1305.5,689.6 1313.5,686.3 1321.5,683.1 1329.5,680.1 1337.5,677.3 1345.5,674.9 1353.5,672.5 1361.5,669.9 1369.5,667.8 1377.5,666 1385.5,664.7 1393.5,663.6 1401.5,663.1 1409.5,663 1417.5,663.2 1425.5,663.8 1433.5,665" fill="none" stroke="#ff0000" stroke-width="1" stroke-dasharray="3,3" shape-rendering="crispEdges"/>
</g>
<text x="-1.5" y="588" class="ax" style="font-size:10.2px" textLength="131.5" lengthAdjust="spacingAndGlyphs">MACD(12,26,9) -0.0537 -0.0232</text>
<g clip-path="url(#cr)">
<line x1="0" y1="783.5" x2="1683" y2="783.5" stroke="#c0c0c0" stroke-width="1" stroke-dasharray="3,3" shape-rendering="crispEdges"/>
<line x1="0" y1="834.5" x2="1683" y2="834.5" stroke="#c0c0c0" stroke-width="1" stroke-dasharray="3,3" shape-rendering="crispEdges"/>
<line x1="0" y1="895.5" x2="1683" y2="895.5" stroke="#c0c0c0" stroke-width="1" stroke-dasharray="3,3" shape-rendering="crispEdges"/>
<polyline points="-6.5,818.5 1.5,817.9 9.5,817.3 17.5,818.1 25.5,832.2 33.5,841.3 41.5,843.4 49.5,838.6 57.5,842.6 65.5,844.1 73.5,837.8 81.5,835.8 89.5,832.1 97.5,828.6 105.5,833.1 113.5,830.6 121.5,835.6 129.5,836.5 137.5,843.6 145.5,848.2 153.5,842.4 161.5,838.8 169.5,842.3 177.5,840.9 185.5,841.1 193.5,840.7 201.5,839.1 209.5,841.4 217.5,844.6 225.5,843.6 233.5,846.5 241.5,854.2 249.5,856 257.5,842.8 265.5,849 273.5,850.7 281.5,851.3 289.5,854.9 297.5,858.4 305.5,854.7 313.5,847.5 321.5,842.1 329.5,828.5 337.5,836.6 345.5,841 353.5,832.9 361.5,834.1 369.5,835.6 377.5,832.2 385.5,823.7 393.5,829 401.5,828 409.5,829.6 417.5,825.9 425.5,827.6 433.5,833 441.5,825.3 449.5,830.1 457.5,826 465.5,828.8 473.5,833.3 481.5,807.5 489.5,805.1 497.5,802.9 505.5,796.7 513.5,796.5 521.5,828.5 529.5,840.3 537.5,852.2 545.5,854.8 553.5,842.4 561.5,844.2 569.5,841.1 577.5,842.4 585.5,851 593.5,848.4 601.5,850.4 609.5,851.1 617.5,849.6 625.5,857.6 633.5,843.1 641.5,840.1 649.5,839.4 657.5,838.3 665.5,830.3 673.5,822.1 681.5,836.3 689.5,833.7 697.5,833.7 705.5,831.7 713.5,837.3 721.5,831.7 729.5,838.8 737.5,840.3 745.5,847 753.5,847.7 761.5,837.2 769.5,838 777.5,846.8 785.5,836.1 793.5,843.8 801.5,840 809.5,837.5 817.5,846.2 825.5,836.8 833.5,844.8 841.5,860.5 849.5,860.8 857.5,870.8 865.5,872.7 873.5,873.6 881.5,878 889.5,849.1 897.5,846.8 905.5,843.1 913.5,850.2 921.5,851.2 929.5,850.8 937.5,841.7 945.5,843 953.5,840.2 961.5,828.2 969.5,821.2 977.5,818.9 985.5,829.6 993.5,829.6 1001.5,842.6 1009.5,856.3 1017.5,838.1 1025.5,844.6 1033.5,842.2 1041.5,841 1049.5,838.1 1057.5,830.1 1065.5,840.4 1073.5,826.4 1081.5,846.3 1089.5,844.3 1097.5,836.4 1105.5,838.1 1113.5,833 1121.5,834.9 1129.5,833 1137.5,830.8 1145.5,831.1 1153.5,838.1 1161.5,832.4 1169.5,834.4 1177.5,835.1 1185.5,834.4 1193.5,844 1201.5,851.2 1209.5,857 1217.5,863.2 1225.5,865.3 1233.5,866.1 1241.5,860.9 1249.5,849.6 1257.5,842 1265.5,838.7 1273.5,834.7 1281.5,835.1 1289.5,838.6 1297.5,831.5 1305.5,838.2 1313.5,835.4 1321.5,839.5 1329.5,836.1 1337.5,829.9 1345.5,832.5 1353.5,822.6 1361.5,820.9 1369.5,835.2 1377.5,835.2 1385.5,843.8 1393.5,839.5 1401.5,848.8 1409.5,841.3 1417.5,840.3 1425.5,839.7 1433.5,839.1" fill="none" stroke="#1e90ff" stroke-width="1" shape-rendering="crispEdges"/>
</g>
<text x="-1.2" y="760" class="ax" style="font-size:10.2px" textLength="66" lengthAdjust="spacingAndGlyphs">RSI(14) 47.9404</text>
<g shape-rendering="crispEdges">
<rect x="-7" y="922" width="1" height="3" fill="#000"/>
<rect x="57" y="922" width="1" height="3" fill="#000"/>
<rect x="121" y="922" width="1" height="3" fill="#000"/>
<rect x="185" y="922" width="1" height="3" fill="#000"/>
<rect x="249" y="922" width="1" height="3" fill="#000"/>
<rect x="313" y="922" width="1" height="3" fill="#000"/>
<rect x="377" y="922" width="1" height="3" fill="#000"/>
<rect x="441" y="922" width="1" height="3" fill="#000"/>
<rect x="505" y="922" width="1" height="3" fill="#000"/>
<rect x="569" y="922" width="1" height="3" fill="#000"/>
<rect x="633" y="922" width="1" height="3" fill="#000"/>
<rect x="697" y="922" width="1" height="3" fill="#000"/>
<rect x="761" y="922" width="1" height="3" fill="#000"/>
<rect x="825" y="922" width="1" height="3" fill="#000"/>
<rect x="889" y="922" width="1" height="3" fill="#000"/>
<rect x="953" y="922" width="1" height="3" fill="#000"/>
<rect x="1017" y="922" width="1" height="3" fill="#000"/>
<rect x="1081" y="922" width="1" height="3" fill="#000"/>
<rect x="1145" y="922" width="1" height="3" fill="#000"/>
<rect x="1209" y="922" width="1" height="3" fill="#000"/>
<rect x="1273" y="922" width="1" height="3" fill="#000"/>
<rect x="1337" y="922" width="1" height="3" fill="#000"/>
<rect x="1401" y="922" width="1" height="3" fill="#000"/>
</g>
<text x="-8.0" y="934" class="ax" textLength="51.7" lengthAdjust="spacingAndGlyphs">22 Mar 2020</text>
<text x="56.0" y="934" class="ax" textLength="51.7" lengthAdjust="spacingAndGlyphs">31 Mar 2020</text>
<text x="120.0" y="934" class="ax" textLength="45.4" lengthAdjust="spacingAndGlyphs">9 Apr 2020</text>
<text x="184.0" y="934" class="ax" textLength="50.3" lengthAdjust="spacingAndGlyphs">20 Apr 2020</text>
<text x="248.0" y="934" class="ax" textLength="50.3" lengthAdjust="spacingAndGlyphs">29 Apr 2020</text>
<text x="312.0" y="934" class="ax" textLength="47.8" lengthAdjust="spacingAndGlyphs">8 May 2020</text>
<text x="376.0" y="934" class="ax" textLength="52.7" lengthAdjust="spacingAndGlyphs">18 May 2020</text>
<text x="440.0" y="934" class="ax" textLength="52.7" lengthAdjust="spacingAndGlyphs">27 May 2020</text>
<text x="504.0" y="934" class="ax" textLength="44.8" lengthAdjust="spacingAndGlyphs">5 Jun 2020</text>
<text x="568.0" y="934" class="ax" textLength="49.7" lengthAdjust="spacingAndGlyphs">15 Jun 2020</text>
<text x="632.0" y="934" class="ax" textLength="49.7" lengthAdjust="spacingAndGlyphs">24 Jun 2020</text>
<text x="696.0" y="934" class="ax" textLength="41.5" lengthAdjust="spacingAndGlyphs">3 Jul 2020</text>
<text x="760.0" y="934" class="ax" textLength="46.4" lengthAdjust="spacingAndGlyphs">13 Jul 2020</text>
<text x="824.0" y="934" class="ax" textLength="46.4" lengthAdjust="spacingAndGlyphs">22 Jul 2020</text>
<text x="888.0" y="934" class="ax" textLength="46.4" lengthAdjust="spacingAndGlyphs">31 Jul 2020</text>
<text x="952.0" y="934" class="ax" textLength="51.7" lengthAdjust="spacingAndGlyphs">10 Aug 2020</text>
<text x="1016.0" y="934" class="ax" textLength="51.7" lengthAdjust="spacingAndGlyphs">19 Aug 2020</text>
<text x="1080.0" y="934" class="ax" textLength="51.7" lengthAdjust="spacingAndGlyphs">28 Aug 2020</text>
<text x="1144.0" y="934" class="ax" textLength="46.2" lengthAdjust="spacingAndGlyphs">7 Sep 2020</text>
<text x="1208.0" y="934" class="ax" textLength="51.1" lengthAdjust="spacingAndGlyphs">16 Sep 2020</text>
<text x="1272.0" y="934" class="ax" textLength="51.1" lengthAdjust="spacingAndGlyphs">25 Sep 2020</text>
<text x="1336.0" y="934" class="ax" textLength="45.0" lengthAdjust="spacingAndGlyphs">5 Oct 2020</text>
<text x="1400.0" y="934" class="ax" textLength="49.9" lengthAdjust="spacingAndGlyphs">14 Oct 2020</text>
<g id="oneclick">
<rect x="0" y="40" width="215" height="64" fill="#fff"/>
<rect x="0" y="40" width="48" height="24" fill="url(#gTab)"/>
<rect x="0" y="63" width="44" height="1" fill="#a00000"/>
<rect x="163" y="40" width="52" height="24" fill="url(#gTab)"/>
<rect x="167" y="63" width="44" height="1" fill="#a00000"/>
<rect x="0" y="64" width="105" height="40" fill="url(#gPx)"/>
<rect x="107" y="64" width="108" height="40" fill="url(#gPx)"/>
<rect x="50.5" y="40.5" width="110" height="21" fill="#fff" stroke="#a0a4ac" stroke-width="1" shape-rendering="crispEdges"/>
<rect x="52" y="42" width="19" height="18" fill="url(#gBtn)"/>
<rect x="71" y="41" width="1" height="20" fill="#a0a4ac"/>
<rect x="140" y="42" width="19" height="18" fill="url(#gBtn)"/>
<rect x="139" y="41" width="1" height="20" fill="#a0a4ac"/>
<path d="M58.5 50h6l-3 3z" fill="#3c50b4"/>
<path d="M146.5 53h6l-3 -3z" fill="#3c50b4"/>
<text x="135.5" y="55" text-anchor="end" font-family="Liberation Sans,Arial,sans-serif" font-size="12" fill="#000" textLength="23" lengthAdjust="spacingAndGlyphs">1.00</text>
<text x="8.5" y="56" font-family="Liberation Sans,Arial,sans-serif" font-size="12.5" fill="#fff" textLength="25.5" lengthAdjust="spacingAndGlyphs">SELL</text>
<text x="176.5" y="56" font-family="Liberation Sans,Arial,sans-serif" font-size="12.5" fill="#fff" textLength="23" lengthAdjust="spacingAndGlyphs">BUY</text>
<text x="19.5" y="95" font-family="Liberation Sans,Arial,sans-serif" font-weight="bold" font-size="12.5" fill="#fff" textLength="19.5" lengthAdjust="spacingAndGlyphs">105</text>
<text x="43.0" y="95.2" font-family="Liberation Sans,Arial,sans-serif" font-size="34" fill="#fff" textLength="34.5" lengthAdjust="spacingAndGlyphs">42</text>
<text x="83.5" y="79" font-family="Liberation Sans,Arial,sans-serif" font-weight="bold" font-size="12.5" fill="#fff">1</text>
<text x="129.8" y="95" font-family="Liberation Sans,Arial,sans-serif" font-weight="bold" font-size="12.5" fill="#fff" textLength="19.5" lengthAdjust="spacingAndGlyphs">105</text>
<text x="154.3" y="95.2" font-family="Liberation Sans,Arial,sans-serif" font-size="34" fill="#fff" textLength="34.5" lengthAdjust="spacingAndGlyphs">43</text>
<text x="194.0" y="79" font-family="Liberation Sans,Arial,sans-serif" font-weight="bold" font-size="12.5" fill="#fff">7</text>
</g>
</svg>
</body></html>
